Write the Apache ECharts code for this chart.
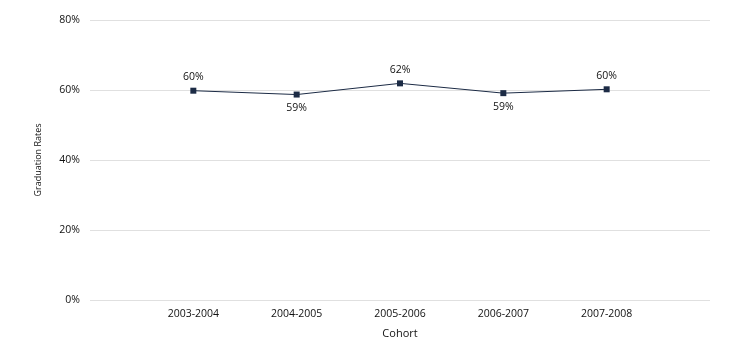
<!DOCTYPE html>
<html><head><meta charset="utf-8">
<script src="https://cdn.jsdelivr.net/npm/echarts@6/dist/echarts.min.js"></script>
<style>html,body{margin:0;padding:0;background:#fff}#c{width:737px;height:360px}</style>
</head><body><div id="c"></div>
<script>
var categories = ['', '2003-2004', '2004-2005', '2005-2006', '2006-2007', '2007-2008', ''];
var rates = [null, 59.8, 58.7, 61.9, 59.1, 60.2, null];
var labelPos = [null, 'top', 'bottom', 'top', 'bottom', 'top', null];
var yTicks = [0, 20, 40, 60, 80];

var chart = echarts.init(document.getElementById('c'));
var font = 'Open Sans, Noto Sans, sans-serif';
chart.setOption({
  animation: false,
  grid: {left: 90, right: 27, top: 20, bottom: 60},
  xAxis: {
    type: 'category', data: categories, boundaryGap: false,
    name: 'Cohort', nameLocation: 'middle', nameGap: 28,
    nameTextStyle: {color: '#111', fontSize: 11, fontFamily: font},
    axisLine: {show: false}, axisTick: {show: false},
    axisLabel: {color: '#111', fontSize: 10.5, fontFamily: font, margin: 9, interval: 0}
  },
  yAxis: {
    type: 'value', min: 0, max: 80, interval: 20,
    name: 'Graduation Rates', nameLocation: 'middle', nameGap: 47,
    nameTextStyle: {color: '#111', fontSize: 9, fontFamily: font},
    axisLabel: {color: '#111', fontSize: 10.5, fontFamily: font, margin: 10,
      formatter: function (v) { return yTicks.indexOf(v) >= 0 ? v + '%' : ''; }},
    splitLine: {lineStyle: {color: '#e0e0e0'}},
    axisLine: {show: false}, axisTick: {show: false}
  },
  series: [{
    type: 'line',
    data: rates.map(function (v, i) {
      return v == null ? null : {value: v, label: {position: labelPos[i]}};
    }),
    symbol: 'rect', symbolSize: 6,
    lineStyle: {color: '#1c2b45', width: 1},
    itemStyle: {color: '#1c2b45'},
    label: {show: true, distance: 5, color: '#111', fontSize: 10.5, fontFamily: font,
      formatter: function (p) { return Math.round(p.value) + '%'; }}
  }]
});
</script></body></html>
